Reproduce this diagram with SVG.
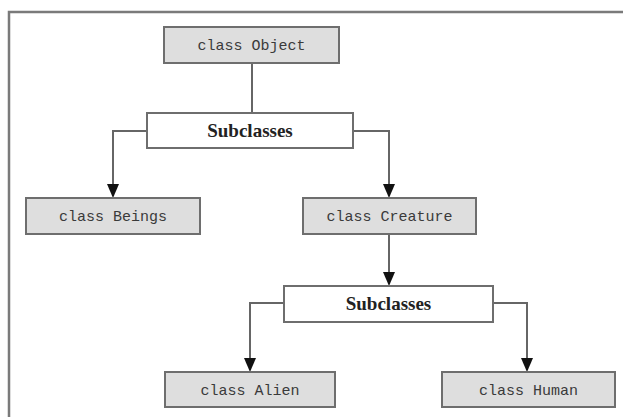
<svg xmlns="http://www.w3.org/2000/svg" width="623" height="417" viewBox="0 0 623 417">
  <style>
    .cls rect { fill: #dedede; stroke: #6e6e6e; stroke-width: 2; }
    .grp rect { fill: #ffffff; stroke: #6e6e6e; stroke-width: 2; }
    .cls text { font-family: "Liberation Mono", "Courier New", monospace; font-size: 15px; fill: #3a3a3a; text-anchor: middle; }
    .grp text { font-family: "Liberation Serif", "Times New Roman", serif; font-size: 19px; font-weight: bold; fill: #222; text-anchor: middle; }
    .edge { fill: none; stroke: #666; stroke-width: 2; }
  </style>
  <defs>
    <marker id="arrow" viewBox="0 0 12 14" refX="6" refY="14" markerWidth="12" markerHeight="14" markerUnits="userSpaceOnUse" orient="auto-start-reverse">
      <path d="M0,0 L12,0 L6,14 Z" fill="#111"/>
    </marker>
  </defs>

  <rect x="0" y="0" width="623" height="417" fill="#ffffff"/>
  <!-- outer frame -->
  <path d="M9,417 V12 H623" fill="none" stroke="#7a7a7a" stroke-width="2.5"/>

  <g id="connectors">
    <path class="edge" d="M252,63 V113"/>
    <path class="edge" d="M147,131 H113 V184"/>
    <path class="edge" d="M353,131 H389 V184"/>
    <path class="edge" d="M389,234 V272"/>
    <path class="edge" d="M284,303 H250 V358"/>
    <path class="edge" d="M493,303 H527 V358"/>
    <path d="M107,184 H119 L113,198 Z" fill="#111"/>
    <path d="M383,184 H395 L389,198 Z" fill="#111"/>
    <path d="M383,272 H395 L389,286 Z" fill="#111"/>
    <path d="M244,358 H256 L250,372 Z" fill="#111"/>
    <path d="M521,358 H533 L527,372 Z" fill="#111"/>
  </g>

  <g id="object" class="cls">
    <rect x="164" y="27" width="175" height="36"/>
    <text x="251.5" y="50">class Object</text>
  </g>
  <g id="subclasses1" class="grp">
    <rect x="147" y="113" width="206" height="35"/>
    <text x="250" y="137">Subclasses</text>
  </g>
  <g id="beings" class="cls">
    <rect x="26" y="198" width="174" height="36"/>
    <text x="113" y="221">class Beings</text>
  </g>
  <g id="creature" class="cls">
    <rect x="303" y="198" width="173" height="36"/>
    <text x="389.5" y="221">class Creature</text>
  </g>
  <g id="subclasses2" class="grp">
    <rect x="284" y="286" width="209" height="36"/>
    <text x="388.5" y="310">Subclasses</text>
  </g>
  <g id="alien" class="cls">
    <rect x="165" y="372" width="170" height="35"/>
    <text x="250" y="395">class Alien</text>
  </g>
  <g id="human" class="cls">
    <rect x="442" y="372" width="173" height="35"/>
    <text x="528.5" y="395">class Human</text>
  </g>
</svg>
